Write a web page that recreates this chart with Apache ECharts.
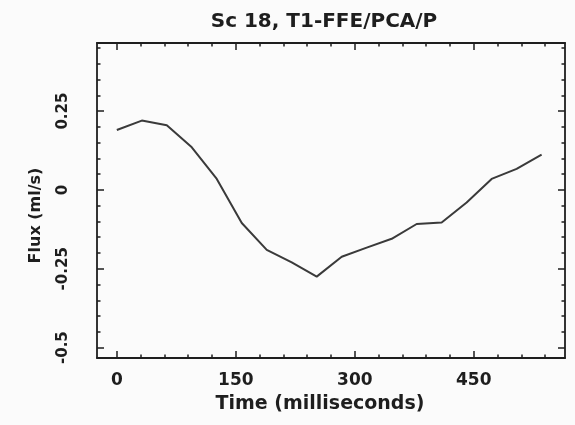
<!DOCTYPE html>
<html><head><meta charset="utf-8">
<script src="https://cdn.jsdelivr.net/npm/echarts@6/dist/echarts.min.js"></script>
<style>html,body{margin:0;padding:0;background:#fbfbfb}#c{width:575px;height:425px}</style>
</head><body><div id="c"></div>
<script>
// ---- data ----
const timeMs = [0, 31.5, 63, 94.5, 126, 157.5, 189, 220.5, 252, 283.5, 315, 346.5, 378, 409.5, 441, 472.5, 504, 535.5];
const flux   = [0.19, 0.22, 0.205, 0.135, 0.035, -0.105, -0.19, -0.23, -0.275, -0.212, -0.183, -0.155, -0.108, -0.103, -0.04, 0.035, 0.067, 0.112];
const xTickLabels = [0, 150, 300, 450];
const xMinorTicks = [0, 30, 60, 90, 120, 150, 180, 210, 240, 270, 300, 330, 360, 390, 420, 450, 480, 510, 540];
const yTickLabels = [-0.5, -0.25, 0, 0.25];
const yMinorTicks = [-0.5, -0.45, -0.4, -0.35, -0.3, -0.25, -0.2, -0.15, -0.1, -0.05, 0, 0.05, 0.1, 0.15, 0.2, 0.25, 0.3, 0.35, 0.4, 0.45];
const chartTitle = 'Sc 18, T1-FFE/PCA/P';
const xName = 'Time (milliseconds)';
const yName = 'Flux (ml/s)';

// ---- chart ----
const FONT = 'DejaVu Sans';
const INK = '#1e1e1e';
const frame = { color: INK, width: 1.8 };
const tickStyle = { color: INK, width: 1.5 };
const X_MIN = -25, X_MAX = 565, Y_MIN = -0.533, Y_MAX = 0.466;

function xAx(pos, major, extra) {
  return Object.assign({
    type: 'value', position: pos, min: X_MIN, max: X_MAX,
    axisLine: { show: major, onZero: false, lineStyle: frame },
    axisTick: { show: true, inside: true, length: major ? 7 : 3.5,
      customValues: major ? xTickLabels : xMinorTicks, lineStyle: tickStyle },
    axisLabel: { show: false },
    splitLine: { show: false }
  }, extra || {});
}
function yAx(pos, major, extra) {
  return Object.assign({
    type: 'value', position: pos, min: Y_MIN, max: Y_MAX,
    axisLine: { show: major, onZero: false, lineStyle: frame },
    axisTick: { show: true, inside: true, length: major ? 7 : 3.5,
      customValues: major ? yTickLabels : yMinorTicks, lineStyle: tickStyle },
    axisLabel: { show: false },
    splitLine: { show: false }
  }, extra || {});
}

const chart = echarts.init(document.getElementById('c'), null, { renderer: 'canvas' });
chart.setOption({
  backgroundColor: '#fbfbfb',
  animation: false,
  title: {
    text: chartTitle, left: 319, top: 7, textAlign: 'center',
    textStyle: { fontFamily: FONT, fontWeight: 'bold', fontSize: 20, color: INK }
  },
  grid: { left: 97, right: 10, top: 43, bottom: 67, containLabel: false },
  xAxis: [
    xAx('bottom', true, {
      name: xName, nameLocation: 'middle', nameGap: 37,
      nameTextStyle: { fontFamily: FONT, fontWeight: 'bold', fontSize: 19, color: INK, padding: [0, 22, 0, 0] },
      axisLabel: { show: true, customValues: xTickLabels, margin: 14,
        fontFamily: FONT, fontWeight: 'bold', fontSize: 17, color: INK }
    }),
    xAx('bottom', false),
    xAx('top', true),
    xAx('top', false)
  ],
  yAxis: [
    yAx('left', true, {
      name: yName, nameLocation: 'middle', nameGap: 53,
      nameTextStyle: { fontFamily: FONT, fontWeight: 'bold', fontSize: 16, color: INK, padding: [0, 30, 0, 0] },
      axisLabel: { show: true, customValues: yTickLabels, rotate: 90, margin: 26,
        fontFamily: FONT, fontWeight: 'bold', fontSize: 15, color: INK }
    }),
    yAx('left', false),
    yAx('right', true),
    yAx('right', false)
  ],
  series: [{
    type: 'line', xAxisIndex: 0, yAxisIndex: 0,
    data: timeMs.map((t, i) => [t, flux[i]]),
    symbol: 'none', smooth: false,
    lineStyle: { color: '#3a3a3a', width: 2 }
  }]
});
</script>
</body></html>
